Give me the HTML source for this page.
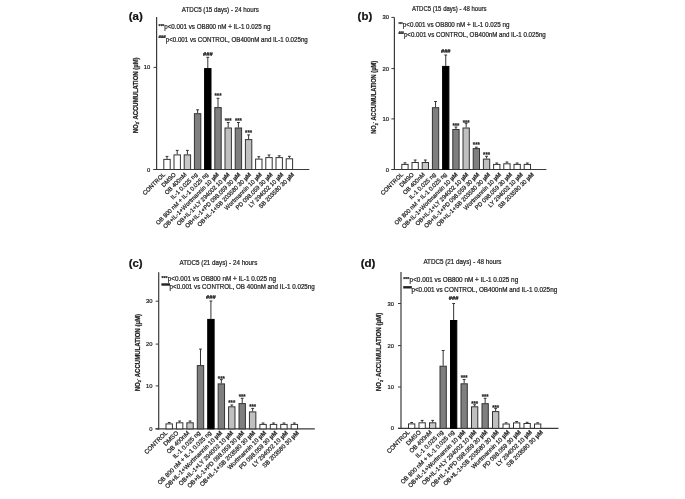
<!DOCTYPE html><html><head><meta charset="utf-8"><style>html,body{margin:0;padding:0;background:#fff;}svg{display:block;will-change:transform;filter:blur(0.4px);}</style></head><body>
<svg width="685" height="499" viewBox="0 0 685 499" font-family='"Liberation Sans", sans-serif'>
<style>text{stroke:#222;stroke-width:0.22px;paint-order:stroke;}</style>
<rect width="685" height="499" fill="#fff"/>
<text x="128.8" y="19.9" font-size="10.6" font-weight="bold" fill="#111" textLength="14" lengthAdjust="spacingAndGlyphs">(a)</text>
<text x="181.8" y="11.77" font-size="6.9" fill="#222" textLength="77" lengthAdjust="spacingAndGlyphs">ATDC5 (15 days) - 24 hours</text>
<line x1="156.6" y1="17" x2="156.6" y2="170.1" stroke="#3a3a3a" stroke-width="1.2"/>
<line x1="153.3" y1="169.5" x2="309.3" y2="169.5" stroke="#3a3a3a" stroke-width="1.2"/>
<line x1="153.6" y1="67.4" x2="156.6" y2="67.4" stroke="#3a3a3a" stroke-width="1"/>
<text x="150.3" y="69.48" font-size="5.8" fill="#222" text-anchor="end">10</text>
<line x1="153.6" y1="169.5" x2="156.6" y2="169.5" stroke="#3a3a3a" stroke-width="1"/>
<text x="150.3" y="171.58" font-size="5.8" fill="#222" text-anchor="end">0</text>
<text transform="translate(135.6,95.3) rotate(-90)" x="0" y="2.29" font-size="6.4" font-weight="bold" fill="#222" text-anchor="middle" textLength="75.8" lengthAdjust="spacingAndGlyphs">NO<tspan font-size="4" dy="1.5">2</tspan><tspan font-size="4" dy="-3.5">-</tspan><tspan dy="2"> ACCUMULATION (µM)</tspan></text>
<text x="158.5" y="28" font-size="6" font-weight="bold" fill="#222" textLength="5.7" lengthAdjust="spacingAndGlyphs">***</text>
<text x="164.2" y="29.36" font-size="6.6" fill="#222" textLength="106.2" lengthAdjust="spacingAndGlyphs">p<0.001 vs OB800 nM + IL-1 0.025 ng</text>
<text x="158.5" y="38.1" font-size="4.2" font-weight="bold" fill="#222" textLength="7.2" lengthAdjust="spacingAndGlyphs">###</text>
<text x="165.7" y="41.66" font-size="6.6" fill="#222" textLength="142.1" lengthAdjust="spacingAndGlyphs">p<0.001 vs CONTROL, OB400nM and IL-1 0.025ng</text>
<line x1="167" y1="156.4" x2="167" y2="158.9" stroke="#333" stroke-width="1"/>
<line x1="165.6" y1="156.4" x2="168.4" y2="156.4" stroke="#333" stroke-width="1"/>
<rect x="163.8" y="159.4" width="6.4" height="10.1" fill="white" stroke="#333" stroke-width="1"/>
<line x1="177.2" y1="150.4" x2="177.2" y2="154.4" stroke="#333" stroke-width="1"/>
<line x1="175.8" y1="150.4" x2="178.6" y2="150.4" stroke="#333" stroke-width="1"/>
<rect x="174" y="154.9" width="6.4" height="14.6" fill="white" stroke="#333" stroke-width="1"/>
<line x1="187.4" y1="150.4" x2="187.4" y2="154.4" stroke="#333" stroke-width="1"/>
<line x1="186" y1="150.4" x2="188.8" y2="150.4" stroke="#333" stroke-width="1"/>
<rect x="184.2" y="154.9" width="6.4" height="14.6" fill="#c8c8c8" stroke="#333" stroke-width="1"/>
<line x1="197.6" y1="109.8" x2="197.6" y2="113.2" stroke="#333" stroke-width="1"/>
<line x1="196.2" y1="109.8" x2="199" y2="109.8" stroke="#333" stroke-width="1"/>
<rect x="194.4" y="113.7" width="6.4" height="55.8" fill="#7f7f7f" stroke="#333" stroke-width="1"/>
<line x1="207.8" y1="57.3" x2="207.8" y2="68.1" stroke="#333" stroke-width="1"/>
<line x1="206.4" y1="57.3" x2="209.2" y2="57.3" stroke="#333" stroke-width="1"/>
<rect x="204.6" y="68.6" width="6.4" height="100.9" fill="#000" stroke="#000" stroke-width="1"/>
<text x="203" y="55.96" font-size="5.2" font-weight="bold" fill="#222" textLength="9.6" lengthAdjust="spacingAndGlyphs">###</text>
<line x1="218" y1="98.3" x2="218" y2="107.1" stroke="#333" stroke-width="1"/>
<line x1="216.6" y1="98.3" x2="219.4" y2="98.3" stroke="#333" stroke-width="1"/>
<rect x="214.8" y="107.6" width="6.4" height="61.9" fill="#7f7f7f" stroke="#333" stroke-width="1"/>
<text x="214.5" y="98.1" font-size="7.5" font-weight="bold" fill="#222" textLength="7" lengthAdjust="spacingAndGlyphs">***</text>
<line x1="228.2" y1="122.5" x2="228.2" y2="127.5" stroke="#333" stroke-width="1"/>
<line x1="226.8" y1="122.5" x2="229.6" y2="122.5" stroke="#333" stroke-width="1"/>
<rect x="225" y="128" width="6.4" height="41.5" fill="#c0c0c0" stroke="#333" stroke-width="1"/>
<text x="224.7" y="122.9" font-size="7.5" font-weight="bold" fill="#222" textLength="7" lengthAdjust="spacingAndGlyphs">***</text>
<line x1="238.4" y1="122.5" x2="238.4" y2="127.5" stroke="#333" stroke-width="1"/>
<line x1="237" y1="122.5" x2="239.8" y2="122.5" stroke="#333" stroke-width="1"/>
<rect x="235.2" y="128" width="6.4" height="41.5" fill="#7f7f7f" stroke="#333" stroke-width="1"/>
<text x="234.9" y="122.9" font-size="7.5" font-weight="bold" fill="#222" textLength="7" lengthAdjust="spacingAndGlyphs">***</text>
<line x1="248.6" y1="134.9" x2="248.6" y2="139.1" stroke="#333" stroke-width="1"/>
<line x1="247.2" y1="134.9" x2="250" y2="134.9" stroke="#333" stroke-width="1"/>
<rect x="245.4" y="139.6" width="6.4" height="29.9" fill="#c0c0c0" stroke="#333" stroke-width="1"/>
<text x="245.1" y="134.5" font-size="7.5" font-weight="bold" fill="#222" textLength="7" lengthAdjust="spacingAndGlyphs">***</text>
<line x1="258.8" y1="156.7" x2="258.8" y2="158.6" stroke="#333" stroke-width="1"/>
<line x1="257.4" y1="156.7" x2="260.2" y2="156.7" stroke="#333" stroke-width="1"/>
<rect x="255.6" y="159.1" width="6.4" height="10.4" fill="white" stroke="#333" stroke-width="1"/>
<line x1="269" y1="155" x2="269" y2="157.1" stroke="#333" stroke-width="1"/>
<line x1="267.6" y1="155" x2="270.4" y2="155" stroke="#333" stroke-width="1"/>
<rect x="265.8" y="157.6" width="6.4" height="11.9" fill="white" stroke="#333" stroke-width="1"/>
<line x1="279.2" y1="155.8" x2="279.2" y2="157.1" stroke="#333" stroke-width="1"/>
<line x1="277.8" y1="155.8" x2="280.6" y2="155.8" stroke="#333" stroke-width="1"/>
<rect x="276" y="157.6" width="6.4" height="11.9" fill="white" stroke="#333" stroke-width="1"/>
<line x1="289.4" y1="156.3" x2="289.4" y2="158.3" stroke="#333" stroke-width="1"/>
<line x1="288" y1="156.3" x2="290.8" y2="156.3" stroke="#333" stroke-width="1"/>
<rect x="286.2" y="158.8" width="6.4" height="10.7" fill="white" stroke="#333" stroke-width="1"/>
<text transform="translate(165.5,175) rotate(-45)" x="0" y="0" font-size="5.95" fill="#222" text-anchor="end">CONTROL</text>
<text transform="translate(176.26,175) rotate(-45)" x="0" y="0" font-size="5.95" fill="#222" text-anchor="end">DMSO</text>
<text transform="translate(187.02,175) rotate(-45)" x="0" y="0" font-size="5.95" fill="#222" text-anchor="end">OB 400nM</text>
<text transform="translate(197.78,175) rotate(-45)" x="0" y="0" font-size="5.95" fill="#222" text-anchor="end">IL-1 0.025 ng</text>
<text transform="translate(208.54,175) rotate(-45)" x="0" y="0" font-size="5.95" fill="#222" text-anchor="end" textLength="71" lengthAdjust="spacingAndGlyphs">OB 800 nM + IL-1 0.025 ng</text>
<text transform="translate(219.3,175) rotate(-45)" x="0" y="0" font-size="5.95" fill="#222" text-anchor="end">OB+IL-1+Wortmannin 10 <tspan font-weight="bold">µM</tspan></text>
<text transform="translate(230.06,175) rotate(-45)" x="0" y="0" font-size="5.95" fill="#222" text-anchor="end">OB+IL-1+LY 294002 10 <tspan font-weight="bold">µM</tspan></text>
<text transform="translate(240.82,175) rotate(-45)" x="0" y="0" font-size="5.95" fill="#222" text-anchor="end">OB+IL-1+PD 098.059 30 <tspan font-weight="bold">µM</tspan></text>
<text transform="translate(251.58,175) rotate(-45)" x="0" y="0" font-size="5.95" fill="#222" text-anchor="end">OB+IL-1+SB 203580 30 <tspan font-weight="bold">µM</tspan></text>
<text transform="translate(262.34,175) rotate(-45)" x="0" y="0" font-size="5.95" fill="#222" text-anchor="end">Wortmannin 10 <tspan font-weight="bold">µM</tspan></text>
<text transform="translate(273.1,175) rotate(-45)" x="0" y="0" font-size="5.95" fill="#222" text-anchor="end">PD 098.059 30 <tspan font-weight="bold">µM</tspan></text>
<text transform="translate(283.86,175) rotate(-45)" x="0" y="0" font-size="5.95" fill="#222" text-anchor="end">LY 294002 10 <tspan font-weight="bold">µM</tspan></text>
<text transform="translate(294.62,175) rotate(-45)" x="0" y="0" font-size="5.95" fill="#222" text-anchor="end">SB 203580 30 <tspan font-weight="bold">µM</tspan></text>
<text x="357.6" y="19.9" font-size="10.6" font-weight="bold" fill="#111" textLength="14.6" lengthAdjust="spacingAndGlyphs">(b)</text>
<text x="411.9" y="10.87" font-size="6.9" fill="#222" textLength="74.6" lengthAdjust="spacingAndGlyphs">ATDC5 (15 days) - 48 hours</text>
<line x1="394.4" y1="17.4" x2="394.4" y2="170.1" stroke="#3a3a3a" stroke-width="1.2"/>
<line x1="391.5" y1="169.5" x2="546.4" y2="169.5" stroke="#3a3a3a" stroke-width="1.2"/>
<line x1="391.4" y1="17.4" x2="394.4" y2="17.4" stroke="#3a3a3a" stroke-width="1"/>
<text x="389" y="19.48" font-size="5.8" fill="#222" text-anchor="end">30</text>
<line x1="391.4" y1="68.6" x2="394.4" y2="68.6" stroke="#3a3a3a" stroke-width="1"/>
<text x="389" y="70.68" font-size="5.8" fill="#222" text-anchor="end">20</text>
<line x1="391.4" y1="118.9" x2="394.4" y2="118.9" stroke="#3a3a3a" stroke-width="1"/>
<text x="389" y="120.98" font-size="5.8" fill="#222" text-anchor="end">10</text>
<line x1="391.4" y1="169.5" x2="394.4" y2="169.5" stroke="#3a3a3a" stroke-width="1"/>
<text x="389" y="171.58" font-size="5.8" fill="#222" text-anchor="end">0</text>
<text transform="translate(373.8,97.3) rotate(-90)" x="0" y="2.29" font-size="6.4" font-weight="bold" fill="#222" text-anchor="middle" textLength="73" lengthAdjust="spacingAndGlyphs">NO<tspan font-size="4" dy="1.5">2</tspan><tspan font-size="4" dy="-3.5">-</tspan><tspan dy="2"> ACCUMULATION (µM)</tspan></text>
<text x="398.5" y="26" font-size="6" font-weight="bold" fill="#222" textLength="4.28" lengthAdjust="spacingAndGlyphs">***</text>
<text x="402.77" y="27.36" font-size="6.6" fill="#222" textLength="106.62" lengthAdjust="spacingAndGlyphs">p<0.001 vs OB800 nM + IL-1 0.025 ng</text>
<text x="398.5" y="33.6" font-size="4.2" font-weight="bold" fill="#222" textLength="5.4" lengthAdjust="spacingAndGlyphs">###</text>
<text x="403.9" y="37.16" font-size="6.6" fill="#222" textLength="141.9" lengthAdjust="spacingAndGlyphs">p<0.001 vs CONTROL, OB400nM and IL-1 0.025ng</text>
<line x1="404.95" y1="162.8" x2="404.95" y2="163.9" stroke="#333" stroke-width="1"/>
<line x1="403.55" y1="162.8" x2="406.35" y2="162.8" stroke="#333" stroke-width="1"/>
<rect x="401.8" y="164.4" width="6.3" height="5.1" fill="white" stroke="#333" stroke-width="1"/>
<line x1="415.15" y1="160" x2="415.15" y2="162" stroke="#333" stroke-width="1"/>
<line x1="413.75" y1="160" x2="416.55" y2="160" stroke="#333" stroke-width="1"/>
<rect x="412" y="162.5" width="6.3" height="7" fill="white" stroke="#333" stroke-width="1"/>
<line x1="425.35" y1="160" x2="425.35" y2="162" stroke="#333" stroke-width="1"/>
<line x1="423.95" y1="160" x2="426.75" y2="160" stroke="#333" stroke-width="1"/>
<rect x="422.2" y="162.5" width="6.3" height="7" fill="#c8c8c8" stroke="#333" stroke-width="1"/>
<line x1="435.55" y1="101.5" x2="435.55" y2="107.2" stroke="#333" stroke-width="1"/>
<line x1="434.15" y1="101.5" x2="436.95" y2="101.5" stroke="#333" stroke-width="1"/>
<rect x="432.4" y="107.7" width="6.3" height="61.8" fill="#7f7f7f" stroke="#333" stroke-width="1"/>
<line x1="445.75" y1="55" x2="445.75" y2="65.9" stroke="#333" stroke-width="1"/>
<line x1="444.35" y1="55" x2="447.15" y2="55" stroke="#333" stroke-width="1"/>
<rect x="442.6" y="66.4" width="6.3" height="103.1" fill="#000" stroke="#000" stroke-width="1"/>
<text x="440.95" y="53.16" font-size="5.2" font-weight="bold" fill="#222" textLength="9.6" lengthAdjust="spacingAndGlyphs">###</text>
<line x1="455.95" y1="127" x2="455.95" y2="129" stroke="#333" stroke-width="1"/>
<line x1="454.55" y1="127" x2="457.35" y2="127" stroke="#333" stroke-width="1"/>
<rect x="452.8" y="129.5" width="6.3" height="40" fill="#7f7f7f" stroke="#333" stroke-width="1"/>
<text x="452.45" y="127.7" font-size="7.5" font-weight="bold" fill="#222" textLength="7" lengthAdjust="spacingAndGlyphs">***</text>
<line x1="466.15" y1="123.3" x2="466.15" y2="127.5" stroke="#333" stroke-width="1"/>
<line x1="464.75" y1="123.3" x2="467.55" y2="123.3" stroke="#333" stroke-width="1"/>
<rect x="463" y="128" width="6.3" height="41.5" fill="#c0c0c0" stroke="#333" stroke-width="1"/>
<text x="462.65" y="124.7" font-size="7.5" font-weight="bold" fill="#222" textLength="7" lengthAdjust="spacingAndGlyphs">***</text>
<line x1="476.35" y1="147.2" x2="476.35" y2="148.1" stroke="#333" stroke-width="1"/>
<line x1="474.95" y1="147.2" x2="477.75" y2="147.2" stroke="#333" stroke-width="1"/>
<rect x="473.2" y="148.6" width="6.3" height="20.9" fill="#7f7f7f" stroke="#333" stroke-width="1"/>
<text x="472.85" y="147.3" font-size="7.5" font-weight="bold" fill="#222" textLength="7" lengthAdjust="spacingAndGlyphs">***</text>
<line x1="486.55" y1="156.3" x2="486.55" y2="158.6" stroke="#333" stroke-width="1"/>
<line x1="485.15" y1="156.3" x2="487.95" y2="156.3" stroke="#333" stroke-width="1"/>
<rect x="483.4" y="159.1" width="6.3" height="10.4" fill="#c0c0c0" stroke="#333" stroke-width="1"/>
<text x="483.05" y="156.6" font-size="7.5" font-weight="bold" fill="#222" textLength="7" lengthAdjust="spacingAndGlyphs">***</text>
<line x1="496.75" y1="163" x2="496.75" y2="163.9" stroke="#333" stroke-width="1"/>
<line x1="495.35" y1="163" x2="498.15" y2="163" stroke="#333" stroke-width="1"/>
<rect x="493.6" y="164.4" width="6.3" height="5.1" fill="white" stroke="#333" stroke-width="1"/>
<line x1="506.95" y1="162" x2="506.95" y2="163.3" stroke="#333" stroke-width="1"/>
<line x1="505.55" y1="162" x2="508.35" y2="162" stroke="#333" stroke-width="1"/>
<rect x="503.8" y="163.8" width="6.3" height="5.7" fill="white" stroke="#333" stroke-width="1"/>
<line x1="517.15" y1="163" x2="517.15" y2="163.9" stroke="#333" stroke-width="1"/>
<line x1="515.75" y1="163" x2="518.55" y2="163" stroke="#333" stroke-width="1"/>
<rect x="514" y="164.4" width="6.3" height="5.1" fill="white" stroke="#333" stroke-width="1"/>
<line x1="527.35" y1="163" x2="527.35" y2="163.9" stroke="#333" stroke-width="1"/>
<line x1="525.95" y1="163" x2="528.75" y2="163" stroke="#333" stroke-width="1"/>
<rect x="524.2" y="164.4" width="6.3" height="5.1" fill="white" stroke="#333" stroke-width="1"/>
<text transform="translate(403.5,175) rotate(-45)" x="0" y="0" font-size="5.95" fill="#222" text-anchor="end">CONTROL</text>
<text transform="translate(414.39,175) rotate(-45)" x="0" y="0" font-size="5.95" fill="#222" text-anchor="end">DMSO</text>
<text transform="translate(425.28,175) rotate(-45)" x="0" y="0" font-size="5.95" fill="#222" text-anchor="end">OB 400nM</text>
<text transform="translate(436.17,175) rotate(-45)" x="0" y="0" font-size="5.95" fill="#222" text-anchor="end">IL-1 0.025 ng</text>
<text transform="translate(447.06,175) rotate(-45)" x="0" y="0" font-size="5.95" fill="#222" text-anchor="end" textLength="71" lengthAdjust="spacingAndGlyphs">OB 800 nM + IL-1 0.025 ng</text>
<text transform="translate(457.95,175) rotate(-45)" x="0" y="0" font-size="5.95" fill="#222" text-anchor="end">OB+IL-1+Wortmannin 10 <tspan font-weight="bold">µM</tspan></text>
<text transform="translate(468.84,175) rotate(-45)" x="0" y="0" font-size="5.95" fill="#222" text-anchor="end">OB+IL-1+LY 294002 10 <tspan font-weight="bold">µM</tspan></text>
<text transform="translate(479.73,175) rotate(-45)" x="0" y="0" font-size="5.95" fill="#222" text-anchor="end">OB+IL-1+PD 098.059 30 <tspan font-weight="bold">µM</tspan></text>
<text transform="translate(490.62,175) rotate(-45)" x="0" y="0" font-size="5.95" fill="#222" text-anchor="end">OB+IL-1+SB 203580 30 <tspan font-weight="bold">µM</tspan></text>
<text transform="translate(501.51,175) rotate(-45)" x="0" y="0" font-size="5.95" fill="#222" text-anchor="end">Wortmannin 10 <tspan font-weight="bold">µM</tspan></text>
<text transform="translate(512.4,175) rotate(-45)" x="0" y="0" font-size="5.95" fill="#222" text-anchor="end">PD 098.059 30 <tspan font-weight="bold">µM</tspan></text>
<text transform="translate(523.29,175) rotate(-45)" x="0" y="0" font-size="5.95" fill="#222" text-anchor="end">LY 294002 10 <tspan font-weight="bold">µM</tspan></text>
<text transform="translate(534.18,175) rotate(-45)" x="0" y="0" font-size="5.95" fill="#222" text-anchor="end">SB 203580 30 <tspan font-weight="bold">µM</tspan></text>
<text x="128.7" y="267.1" font-size="10.6" font-weight="bold" fill="#111" textLength="14" lengthAdjust="spacingAndGlyphs">(c)</text>
<text x="179.5" y="265.37" font-size="6.9" fill="#222" textLength="77.8" lengthAdjust="spacingAndGlyphs">ATDC5 (21 days) - 24 hours</text>
<line x1="158.7" y1="272.3" x2="158.7" y2="429.5" stroke="#3a3a3a" stroke-width="1.2"/>
<line x1="155.5" y1="428.9" x2="314.8" y2="428.9" stroke="#3a3a3a" stroke-width="1.2"/>
<line x1="155.7" y1="301.2" x2="158.7" y2="301.2" stroke="#3a3a3a" stroke-width="1"/>
<text x="152.5" y="303.28" font-size="5.8" fill="#222" text-anchor="end">30</text>
<line x1="155.7" y1="344.1" x2="158.7" y2="344.1" stroke="#3a3a3a" stroke-width="1"/>
<text x="152.5" y="346.18" font-size="5.8" fill="#222" text-anchor="end">20</text>
<line x1="155.7" y1="385.9" x2="158.7" y2="385.9" stroke="#3a3a3a" stroke-width="1"/>
<text x="152.5" y="387.98" font-size="5.8" fill="#222" text-anchor="end">10</text>
<line x1="155.7" y1="428.8" x2="158.7" y2="428.8" stroke="#3a3a3a" stroke-width="1"/>
<text x="152.5" y="430.88" font-size="5.8" fill="#222" text-anchor="end">0</text>
<text transform="translate(137.5,352.65) rotate(-90)" x="0" y="2.29" font-size="6.4" font-weight="bold" fill="#222" text-anchor="middle" textLength="77.3" lengthAdjust="spacingAndGlyphs">NO<tspan font-size="4" dy="1.5">2</tspan><tspan font-size="4" dy="-3.5">-</tspan><tspan dy="2"> ACCUMULATION (µM)</tspan></text>
<text x="161.4" y="280.3" font-size="6" font-weight="bold" fill="#222" textLength="6.2" lengthAdjust="spacingAndGlyphs">***</text>
<text x="167.8" y="280.66" font-size="6.6" fill="#222" textLength="108.2" lengthAdjust="spacingAndGlyphs">p<0.001 vs OB800 nM + IL-1 0.025 ng</text>
<rect x="161.4" y="283.3" width="8.6" height="2.4" fill="#222"/>
<text x="169.6" y="289.36" font-size="6.6" fill="#222" textLength="145.2" lengthAdjust="spacingAndGlyphs">p<0.001 vs CONTROL, OB 400nM and IL-1 0.025ng</text>
<line x1="169.2" y1="422.5" x2="169.2" y2="423.4" stroke="#333" stroke-width="1"/>
<line x1="167.8" y1="422.5" x2="170.6" y2="422.5" stroke="#333" stroke-width="1"/>
<rect x="166" y="423.9" width="6.4" height="5" fill="white" stroke="#333" stroke-width="1"/>
<line x1="179.63" y1="421" x2="179.63" y2="422.3" stroke="#333" stroke-width="1"/>
<line x1="178.23" y1="421" x2="181.03" y2="421" stroke="#333" stroke-width="1"/>
<rect x="176.43" y="422.8" width="6.4" height="6.1" fill="white" stroke="#333" stroke-width="1"/>
<line x1="190.06" y1="421" x2="190.06" y2="422.3" stroke="#333" stroke-width="1"/>
<line x1="188.66" y1="421" x2="191.46" y2="421" stroke="#333" stroke-width="1"/>
<rect x="186.86" y="422.8" width="6.4" height="6.1" fill="#c8c8c8" stroke="#333" stroke-width="1"/>
<line x1="200.49" y1="349.1" x2="200.49" y2="365.1" stroke="#333" stroke-width="1"/>
<line x1="199.09" y1="349.1" x2="201.89" y2="349.1" stroke="#333" stroke-width="1"/>
<rect x="197.29" y="365.6" width="6.4" height="63.3" fill="#7f7f7f" stroke="#333" stroke-width="1"/>
<line x1="210.92" y1="301" x2="210.92" y2="318.9" stroke="#333" stroke-width="1"/>
<line x1="209.52" y1="301" x2="212.32" y2="301" stroke="#333" stroke-width="1"/>
<rect x="207.72" y="319.4" width="6.4" height="109.5" fill="#000" stroke="#000" stroke-width="1"/>
<text x="206.12" y="299.06" font-size="5.2" font-weight="bold" fill="#222" textLength="9.6" lengthAdjust="spacingAndGlyphs">###</text>
<line x1="221.35" y1="379.6" x2="221.35" y2="383.4" stroke="#333" stroke-width="1"/>
<line x1="219.95" y1="379.6" x2="222.75" y2="379.6" stroke="#333" stroke-width="1"/>
<rect x="218.15" y="383.9" width="6.4" height="45" fill="#7f7f7f" stroke="#333" stroke-width="1"/>
<text x="217.85" y="380.8" font-size="7.5" font-weight="bold" fill="#222" textLength="7" lengthAdjust="spacingAndGlyphs">***</text>
<line x1="231.78" y1="405" x2="231.78" y2="406.3" stroke="#333" stroke-width="1"/>
<line x1="230.38" y1="405" x2="233.18" y2="405" stroke="#333" stroke-width="1"/>
<rect x="228.58" y="406.8" width="6.4" height="22.1" fill="#c0c0c0" stroke="#333" stroke-width="1"/>
<text x="228.28" y="404.6" font-size="7.5" font-weight="bold" fill="#222" textLength="7" lengthAdjust="spacingAndGlyphs">***</text>
<line x1="242.21" y1="398.3" x2="242.21" y2="403.1" stroke="#333" stroke-width="1"/>
<line x1="240.81" y1="398.3" x2="243.61" y2="398.3" stroke="#333" stroke-width="1"/>
<rect x="239.01" y="403.6" width="6.4" height="25.3" fill="#7f7f7f" stroke="#333" stroke-width="1"/>
<text x="238.71" y="398.6" font-size="7.5" font-weight="bold" fill="#222" textLength="7" lengthAdjust="spacingAndGlyphs">***</text>
<line x1="252.64" y1="408.4" x2="252.64" y2="411.4" stroke="#333" stroke-width="1"/>
<line x1="251.24" y1="408.4" x2="254.04" y2="408.4" stroke="#333" stroke-width="1"/>
<rect x="249.44" y="411.9" width="6.4" height="17" fill="#c0c0c0" stroke="#333" stroke-width="1"/>
<text x="249.14" y="408.8" font-size="7.5" font-weight="bold" fill="#222" textLength="7" lengthAdjust="spacingAndGlyphs">***</text>
<line x1="263.07" y1="423" x2="263.07" y2="423.9" stroke="#333" stroke-width="1"/>
<line x1="261.67" y1="423" x2="264.47" y2="423" stroke="#333" stroke-width="1"/>
<rect x="259.87" y="424.4" width="6.4" height="4.5" fill="white" stroke="#333" stroke-width="1"/>
<line x1="273.5" y1="423" x2="273.5" y2="423.9" stroke="#333" stroke-width="1"/>
<line x1="272.1" y1="423" x2="274.9" y2="423" stroke="#333" stroke-width="1"/>
<rect x="270.3" y="424.4" width="6.4" height="4.5" fill="white" stroke="#333" stroke-width="1"/>
<line x1="283.93" y1="423" x2="283.93" y2="423.9" stroke="#333" stroke-width="1"/>
<line x1="282.53" y1="423" x2="285.33" y2="423" stroke="#333" stroke-width="1"/>
<rect x="280.73" y="424.4" width="6.4" height="4.5" fill="white" stroke="#333" stroke-width="1"/>
<line x1="294.36" y1="423" x2="294.36" y2="423.9" stroke="#333" stroke-width="1"/>
<line x1="292.96" y1="423" x2="295.76" y2="423" stroke="#333" stroke-width="1"/>
<rect x="291.16" y="424.4" width="6.4" height="4.5" fill="white" stroke="#333" stroke-width="1"/>
<text transform="translate(167.8,433.4) rotate(-45)" x="0" y="0" font-size="6.12" fill="#222" text-anchor="end">CONTROL</text>
<text transform="translate(178.77,433.4) rotate(-45)" x="0" y="0" font-size="6.12" fill="#222" text-anchor="end">DMSO</text>
<text transform="translate(189.74,433.4) rotate(-45)" x="0" y="0" font-size="6.12" fill="#222" text-anchor="end">OB 400nM</text>
<text transform="translate(200.71,433.4) rotate(-45)" x="0" y="0" font-size="6.12" fill="#222" text-anchor="end">IL-1 0.025 ng</text>
<text transform="translate(211.68,433.4) rotate(-45)" x="0" y="0" font-size="6.12" fill="#222" text-anchor="end" textLength="73.03" lengthAdjust="spacingAndGlyphs">OB 800 nM + IL-1 0.025 ng</text>
<text transform="translate(222.65,433.4) rotate(-45)" x="0" y="0" font-size="6.12" fill="#222" text-anchor="end">OB+IL-1+Wortmannin 10 <tspan font-weight="bold">µM</tspan></text>
<text transform="translate(233.62,433.4) rotate(-45)" x="0" y="0" font-size="6.12" fill="#222" text-anchor="end">OB+IL-1+LY 294002 10 <tspan font-weight="bold">µM</tspan></text>
<text transform="translate(244.59,433.4) rotate(-45)" x="0" y="0" font-size="6.12" fill="#222" text-anchor="end">OB+IL-1+PD 098.059 30 <tspan font-weight="bold">µM</tspan></text>
<text transform="translate(255.56,433.4) rotate(-45)" x="0" y="0" font-size="6.12" fill="#222" text-anchor="end">OB+IL-1+SB 203580 30 <tspan font-weight="bold">µM</tspan></text>
<text transform="translate(266.53,433.4) rotate(-45)" x="0" y="0" font-size="6.12" fill="#222" text-anchor="end">Wortmannin 10 <tspan font-weight="bold">µM</tspan></text>
<text transform="translate(277.5,433.4) rotate(-45)" x="0" y="0" font-size="6.12" fill="#222" text-anchor="end">PD 098.059 30 <tspan font-weight="bold">µM</tspan></text>
<text transform="translate(288.47,433.4) rotate(-45)" x="0" y="0" font-size="6.12" fill="#222" text-anchor="end">LY 294002 10 <tspan font-weight="bold">µM</tspan></text>
<text transform="translate(299.44,433.4) rotate(-45)" x="0" y="0" font-size="6.12" fill="#222" text-anchor="end">SB 203580 30 <tspan font-weight="bold">µM</tspan></text>
<text x="360.7" y="267.1" font-size="10.6" font-weight="bold" fill="#111" textLength="14.8" lengthAdjust="spacingAndGlyphs">(d)</text>
<text x="423.4" y="264.27" font-size="6.9" fill="#222" textLength="78" lengthAdjust="spacingAndGlyphs">ATDC5 (21 days) - 48 hours</text>
<line x1="401" y1="271.9" x2="401" y2="429" stroke="#3a3a3a" stroke-width="1.2"/>
<line x1="398" y1="428.4" x2="558.5" y2="428.4" stroke="#3a3a3a" stroke-width="1.2"/>
<line x1="398" y1="303.5" x2="401" y2="303.5" stroke="#3a3a3a" stroke-width="1"/>
<text x="394" y="305.58" font-size="5.8" fill="#222" text-anchor="end">30</text>
<line x1="398" y1="345.6" x2="401" y2="345.6" stroke="#3a3a3a" stroke-width="1"/>
<text x="394" y="347.68" font-size="5.8" fill="#222" text-anchor="end">20</text>
<line x1="398" y1="387" x2="401" y2="387" stroke="#3a3a3a" stroke-width="1"/>
<text x="394" y="389.08" font-size="5.8" fill="#222" text-anchor="end">10</text>
<line x1="398" y1="428.4" x2="401" y2="428.4" stroke="#3a3a3a" stroke-width="1"/>
<text x="394" y="430.48" font-size="5.8" fill="#222" text-anchor="end">0</text>
<text transform="translate(378.9,352) rotate(-90)" x="0" y="2.29" font-size="6.4" font-weight="bold" fill="#222" text-anchor="middle" textLength="78.4" lengthAdjust="spacingAndGlyphs">NO<tspan font-size="4" dy="1.5">2</tspan><tspan font-size="4" dy="-3.5">-</tspan><tspan dy="2"> ACCUMULATION (µM)</tspan></text>
<text x="403.2" y="281.2" font-size="6" font-weight="bold" fill="#222" textLength="6.2" lengthAdjust="spacingAndGlyphs">***</text>
<text x="409.6" y="281.56" font-size="6.6" fill="#222" textLength="108.6" lengthAdjust="spacingAndGlyphs">p<0.001 vs OB800 nM + IL-1 0.025 ng</text>
<rect x="403.2" y="286.1" width="8.6" height="2.4" fill="#222"/>
<text x="411.4" y="292.16" font-size="6.6" fill="#222" textLength="145.8" lengthAdjust="spacingAndGlyphs">p<0.001 vs CONTROL, OB400nM and IL-1 0.025ng</text>
<line x1="411.65" y1="422.5" x2="411.65" y2="423.4" stroke="#333" stroke-width="1"/>
<line x1="410.25" y1="422.5" x2="413.05" y2="422.5" stroke="#333" stroke-width="1"/>
<rect x="408.5" y="423.9" width="6.3" height="4.5" fill="white" stroke="#333" stroke-width="1"/>
<line x1="422.15" y1="420.4" x2="422.15" y2="422.3" stroke="#333" stroke-width="1"/>
<line x1="420.75" y1="420.4" x2="423.55" y2="420.4" stroke="#333" stroke-width="1"/>
<rect x="419" y="422.8" width="6.3" height="5.6" fill="white" stroke="#333" stroke-width="1"/>
<line x1="432.65" y1="420.4" x2="432.65" y2="422.3" stroke="#333" stroke-width="1"/>
<line x1="431.25" y1="420.4" x2="434.05" y2="420.4" stroke="#333" stroke-width="1"/>
<rect x="429.5" y="422.8" width="6.3" height="5.6" fill="#c8c8c8" stroke="#333" stroke-width="1"/>
<line x1="443.15" y1="350.5" x2="443.15" y2="365.7" stroke="#333" stroke-width="1"/>
<line x1="441.75" y1="350.5" x2="444.55" y2="350.5" stroke="#333" stroke-width="1"/>
<rect x="440" y="366.2" width="6.3" height="62.2" fill="#7f7f7f" stroke="#333" stroke-width="1"/>
<line x1="453.65" y1="303.5" x2="453.65" y2="320" stroke="#333" stroke-width="1"/>
<line x1="452.25" y1="303.5" x2="455.05" y2="303.5" stroke="#333" stroke-width="1"/>
<rect x="450.5" y="320.5" width="6.3" height="107.9" fill="#000" stroke="#000" stroke-width="1"/>
<text x="448.85" y="300.16" font-size="5.2" font-weight="bold" fill="#222" textLength="9.6" lengthAdjust="spacingAndGlyphs">###</text>
<line x1="464.15" y1="379.5" x2="464.15" y2="383.3" stroke="#333" stroke-width="1"/>
<line x1="462.75" y1="379.5" x2="465.55" y2="379.5" stroke="#333" stroke-width="1"/>
<rect x="461" y="383.8" width="6.3" height="44.6" fill="#7f7f7f" stroke="#333" stroke-width="1"/>
<text x="460.65" y="379.9" font-size="7.5" font-weight="bold" fill="#222" textLength="7" lengthAdjust="spacingAndGlyphs">***</text>
<line x1="474.65" y1="404.8" x2="474.65" y2="406.3" stroke="#333" stroke-width="1"/>
<line x1="473.25" y1="404.8" x2="476.05" y2="404.8" stroke="#333" stroke-width="1"/>
<rect x="471.5" y="406.8" width="6.3" height="21.6" fill="#c0c0c0" stroke="#333" stroke-width="1"/>
<text x="471.15" y="405.5" font-size="7.5" font-weight="bold" fill="#222" textLength="7" lengthAdjust="spacingAndGlyphs">***</text>
<line x1="485.15" y1="398.3" x2="485.15" y2="403.2" stroke="#333" stroke-width="1"/>
<line x1="483.75" y1="398.3" x2="486.55" y2="398.3" stroke="#333" stroke-width="1"/>
<rect x="482" y="403.7" width="6.3" height="24.7" fill="#7f7f7f" stroke="#333" stroke-width="1"/>
<text x="481.65" y="398.6" font-size="7.5" font-weight="bold" fill="#222" textLength="7" lengthAdjust="spacingAndGlyphs">***</text>
<line x1="495.65" y1="408.4" x2="495.65" y2="411.1" stroke="#333" stroke-width="1"/>
<line x1="494.25" y1="408.4" x2="497.05" y2="408.4" stroke="#333" stroke-width="1"/>
<rect x="492.5" y="411.6" width="6.3" height="16.8" fill="#c0c0c0" stroke="#333" stroke-width="1"/>
<text x="492.15" y="410" font-size="7.5" font-weight="bold" fill="#222" textLength="7" lengthAdjust="spacingAndGlyphs">***</text>
<line x1="506.15" y1="422.8" x2="506.15" y2="423.5" stroke="#333" stroke-width="1"/>
<line x1="504.75" y1="422.8" x2="507.55" y2="422.8" stroke="#333" stroke-width="1"/>
<rect x="503" y="424" width="6.3" height="4.4" fill="white" stroke="#333" stroke-width="1"/>
<line x1="516.65" y1="421.5" x2="516.65" y2="422.4" stroke="#333" stroke-width="1"/>
<line x1="515.25" y1="421.5" x2="518.05" y2="421.5" stroke="#333" stroke-width="1"/>
<rect x="513.5" y="422.9" width="6.3" height="5.5" fill="white" stroke="#333" stroke-width="1"/>
<line x1="527.15" y1="422.3" x2="527.15" y2="423" stroke="#333" stroke-width="1"/>
<line x1="525.75" y1="422.3" x2="528.55" y2="422.3" stroke="#333" stroke-width="1"/>
<rect x="524" y="423.5" width="6.3" height="4.9" fill="white" stroke="#333" stroke-width="1"/>
<line x1="537.65" y1="422.8" x2="537.65" y2="423.5" stroke="#333" stroke-width="1"/>
<line x1="536.25" y1="422.8" x2="539.05" y2="422.8" stroke="#333" stroke-width="1"/>
<rect x="534.5" y="424" width="6.3" height="4.4" fill="white" stroke="#333" stroke-width="1"/>
<text transform="translate(410.25,432.7) rotate(-45)" x="0" y="0" font-size="6.12" fill="#222" text-anchor="end">CONTROL</text>
<text transform="translate(421.35,432.7) rotate(-45)" x="0" y="0" font-size="6.12" fill="#222" text-anchor="end">DMSO</text>
<text transform="translate(432.45,432.7) rotate(-45)" x="0" y="0" font-size="6.12" fill="#222" text-anchor="end">OB 400nM</text>
<text transform="translate(443.55,432.7) rotate(-45)" x="0" y="0" font-size="6.12" fill="#222" text-anchor="end">IL-1 0.025 ng</text>
<text transform="translate(454.65,432.7) rotate(-45)" x="0" y="0" font-size="6.12" fill="#222" text-anchor="end" textLength="73.03" lengthAdjust="spacingAndGlyphs">OB 800 nM + IL-1 0.025 ng</text>
<text transform="translate(465.75,432.7) rotate(-45)" x="0" y="0" font-size="6.12" fill="#222" text-anchor="end">OB+IL-1+Wortmannin 10 <tspan font-weight="bold">µM</tspan></text>
<text transform="translate(476.85,432.7) rotate(-45)" x="0" y="0" font-size="6.12" fill="#222" text-anchor="end">OB+IL-1+LY 294002 10 <tspan font-weight="bold">µM</tspan></text>
<text transform="translate(487.95,432.7) rotate(-45)" x="0" y="0" font-size="6.12" fill="#222" text-anchor="end">OB+IL-1+PD 098.059 30 <tspan font-weight="bold">µM</tspan></text>
<text transform="translate(499.05,432.7) rotate(-45)" x="0" y="0" font-size="6.12" fill="#222" text-anchor="end">OB+IL-1+SB 203580 30 <tspan font-weight="bold">µM</tspan></text>
<text transform="translate(510.15,432.7) rotate(-45)" x="0" y="0" font-size="6.12" fill="#222" text-anchor="end">Wortmannin 10 <tspan font-weight="bold">µM</tspan></text>
<text transform="translate(521.25,432.7) rotate(-45)" x="0" y="0" font-size="6.12" fill="#222" text-anchor="end">PD 098.059 30 <tspan font-weight="bold">µM</tspan></text>
<text transform="translate(532.35,432.7) rotate(-45)" x="0" y="0" font-size="6.12" fill="#222" text-anchor="end">LY 294002 10 <tspan font-weight="bold">µM</tspan></text>
<text transform="translate(543.45,432.7) rotate(-45)" x="0" y="0" font-size="6.12" fill="#222" text-anchor="end">SB 203580 30 <tspan font-weight="bold">µM</tspan></text>
</svg></body></html>
